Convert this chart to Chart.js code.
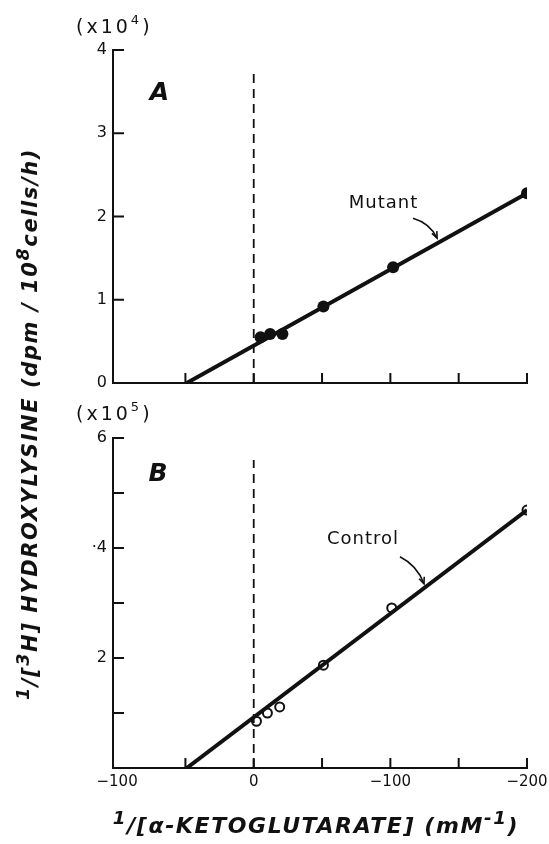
<!DOCTYPE html>
<html>
<head>
<meta charset="utf-8">
<script src="https://cdn.jsdelivr.net/npm/chart.js@4"></script>
<style>
  body { margin: 0; background: #fff; width: 549px; height: 844px; position: relative; overflow: hidden; font-family: 'DejaVu Sans', sans-serif; color: #111; }
  canvas { position: absolute; left: 0; }
  #chartA { top: 0; }
  #chartB { top: 400px; }
  .mult { position: absolute; left: 76px; font-size: 19px; letter-spacing: 3px; white-space: nowrap; }
  .mult sup { font-size: 13px; position: relative; top: -2px; }
  #multA { top: 15px; }
  #multB { top: 402px; }
  #ytitle { position: absolute; left: 30px; top: 424px; transform: translate(-50%, -50%) rotate(-90deg); font-size: 21px; font-weight: bold; font-style: italic; white-space: nowrap; letter-spacing: 1.6px; }
  #xtitle { position: absolute; left: 316px; top: 825px; transform: translate(-50%, -50%); font-size: 22px; font-weight: bold; font-style: italic; white-space: nowrap; letter-spacing: 1.6px; }
  sup { line-height: 0; }
</style>
</head>
<body>
<canvas id="chartA" width="549" height="400"></canvas>
<canvas id="chartB" width="549" height="444"></canvas>
<div class="mult" id="multA">(x10<sup>4</sup>)</div>
<div class="mult" id="multB">(x10<sup>5</sup>)</div>
<div id="ytitle"><sup>1</sup>/[<sup>3</sup>H] HYDROXYLYSINE (dpm / 10<sup>8</sup>cells/h)</div>
<div id="xtitle"><sup>1</sup>/[α-KETOGLUTARATE] (mM<sup>-1</sup>)</div>
<script>
// x axis (shared by both panels)
const xTicks = [-100, -50, 0, 50, 100, 150, 200];
const xTickLabels = ['−100', '', '0', '', '−100', '', '−200'];

// panel A: mutant
const mutantX = [5, 12, 21, 51, 102, 200];
const mutantY = [0.55, 0.59, 0.59, 0.92, 1.39, 2.28];
const mutantFitX = [-49, 200];
const mutantFitY = [0, 2.28];
const yTicksA = [0, 1, 2, 3, 4];
const yLabelsA = ['0', '1', '2', '3', '4'];
const zeroLineA = [0, 3.76];

// panel B: control
const controlX = [2, 10, 19, 51, 101, 200];
const controlY = [0.85, 1.0, 1.11, 1.87, 2.91, 4.69];
const controlFitX = [-49, 200];
const controlFitY = [0, 4.69];
const yTicksB = [0, 1, 2, 3, 4, 5, 6];
const yLabelsB = ['', '', '2', '', '·4', '', '6'];
const zeroLineB = [0, 5.6];

const ink = '#111';
Chart.defaults.font.family = "'DejaVu Sans', sans-serif";
Chart.defaults.color = ink;

function pts(xs, ys) {
    return xs.map((x, i) => ({ x: x, y: ys[i] }));
}

// short tick marks pointing into the plot (none where the axes meet)
const inwardTicks = {
    id: 'inwardTicks',
    afterDraw(chart) {
        const ctx = chart.ctx, a = chart.chartArea;
        const sx = chart.scales.x, sy = chart.scales.y;
        ctx.save();
        ctx.strokeStyle = ink;
        ctx.lineWidth = 2;
        ctx.beginPath();
        sx.ticks.forEach(t => {
            if (t.value <= sx.min + 5) return;
            const px = sx.getPixelForValue(t.value);
            ctx.moveTo(px, a.bottom);
            ctx.lineTo(px, a.bottom - 10);
        });
        sy.ticks.forEach(t => {
            if (t.value === 0) return;
            const py = sy.getPixelForValue(t.value);
            ctx.moveTo(a.left, py);
            ctx.lineTo(a.left + 11, py);
        });
        ctx.stroke();
        ctx.restore();
    }
};

// panel letter, curve label and its arrow
const notes = {
    id: 'notes',
    afterDraw(chart, args, opts) {
        const ctx = chart.ctx;
        const sx = chart.scales.x, sy = chart.scales.y;
        ctx.save();
        ctx.fillStyle = ink;
        ctx.strokeStyle = ink;
        ctx.textAlign = 'center';
        ctx.textBaseline = 'middle';

        ctx.font = "italic bold 25px 'DejaVu Sans'";
        ctx.fillText(opts.panel.text, sx.getPixelForValue(opts.panel.x), sy.getPixelForValue(opts.panel.y));

        ctx.font = "18px 'DejaVu Sans'";
        ctx.letterSpacing = '1px';
        ctx.fillText(opts.label.text, sx.getPixelForValue(opts.label.x), sy.getPixelForValue(opts.label.y));

        const x0 = sx.getPixelForValue(opts.arrow.x0), y0 = sy.getPixelForValue(opts.arrow.y0);
        const x1 = sx.getPixelForValue(opts.arrow.x1), y1 = sy.getPixelForValue(opts.arrow.y1);
        const cx = (x0 + x1) / 2 + 5, cy = (y0 + y1) / 2 - 5;
        ctx.lineWidth = 1.6;
        ctx.beginPath();
        ctx.moveTo(x0, y0);
        ctx.quadraticCurveTo(cx, cy, x1, y1);
        ctx.stroke();
        const ang = Math.atan2(y1 - cy, x1 - cx);
        ctx.beginPath();
        ctx.moveTo(x1 - 7 * Math.cos(ang - 0.4), y1 - 7 * Math.sin(ang - 0.4));
        ctx.lineTo(x1, y1);
        ctx.lineTo(x1 - 7 * Math.cos(ang + 0.4), y1 - 7 * Math.sin(ang + 0.4));
        ctx.stroke();
        ctx.restore();
    }
};

function makeChart(id, cfg) {
    return new Chart(document.getElementById(id), {
        type: 'scatter',
        data: {
            datasets: [{
                data: pts([0, 0], cfg.zeroLine),
                showLine: true,
                borderColor: ink,
                borderWidth: 1.8,
                borderDash: [9, 6],
                pointRadius: 0
            }, {
                data: pts(cfg.fitX, cfg.fitY),
                showLine: true,
                borderColor: ink,
                borderWidth: 4,
                pointRadius: 0
            }, {
                data: pts(cfg.xs, cfg.ys),
                showLine: false,
                pointRadius: cfg.radius,
                pointBackgroundColor: cfg.fill,
                pointBorderColor: ink,
                pointBorderWidth: cfg.pointBorder
            }]
        },
        options: {
            responsive: false,
            animation: false,
            events: [],
            layout: { padding: { left: 0, right: 22, top: cfg.top, bottom: 0 } },
            plugins: {
                legend: { display: false },
                tooltip: { enabled: false },
                notes: cfg.notes
            },
            scales: {
                x: {
                    type: 'linear',
                    min: -103,
                    max: 200,
                    afterBuildTicks: s => { s.ticks = xTicks.map(v => ({ value: v })); },
                    afterFit: s => {
                        s.height = cfg.xHeight;
                        s.paddingLeft = 0;
                        s.paddingRight = 0;
                    },
                    grid: { display: false, drawTicks: false },
                    border: { display: true, color: ink, width: 2 },
                    ticks: {
                        display: cfg.showX,
                        padding: 5,
                        maxRotation: 0,
                        autoSkip: false,
                        font: { size: 15 },
                        callback: (v, i) => xTickLabels[i]
                    }
                },
                y: {
                    type: 'linear',
                    min: 0,
                    max: cfg.yTicks[cfg.yTicks.length - 1],
                    afterBuildTicks: s => { s.ticks = cfg.yTicks.map(v => ({ value: v })); },
                    afterFit: s => {
                        s.width = 113;
                        s.paddingTop = 0;
                        s.paddingBottom = 0;
                    },
                    grid: { display: false, drawTicks: false },
                    border: { display: true, color: ink, width: 2 },
                    ticks: {
                        padding: 6,
                        autoSkip: false,
                        font: { size: 16 },
                        callback: (v, i) => cfg.yLabels[i]
                    }
                }
            }
        },
        plugins: [inwardTicks, notes]
    });
}

makeChart('chartA', {
    zeroLine: zeroLineA, fitX: mutantFitX, fitY: mutantFitY,
    xs: mutantX, ys: mutantY, radius: 6, fill: ink, pointBorder: 0,
    yTicks: yTicksA, yLabels: yLabelsA, top: 50, xHeight: 17, showX: false,
    notes: {
        panel: { text: 'A', x: -69, y: 3.48 },
        label: { text: 'Mutant', x: 95, y: 2.16 },
        arrow: { x0: 116.6, y0: 1.98, x1: 134.2, y1: 1.74 }
    }
});

makeChart('chartB', {
    zeroLine: zeroLineB, fitX: controlFitX, fitY: controlFitY,
    xs: controlX, ys: controlY, radius: 4.5, fill: '#fff', pointBorder: 2,
    yTicks: yTicksB, yLabels: yLabelsB, top: 38, xHeight: 76, showX: true,
    notes: {
        panel: { text: 'B', x: -70, y: 5.33 },
        label: { text: 'Control', x: 80, y: 4.15 },
        arrow: { x0: 107, y0: 3.84, x1: 124.6, y1: 3.35 }
    }
});
</script>
</body>
</html>
